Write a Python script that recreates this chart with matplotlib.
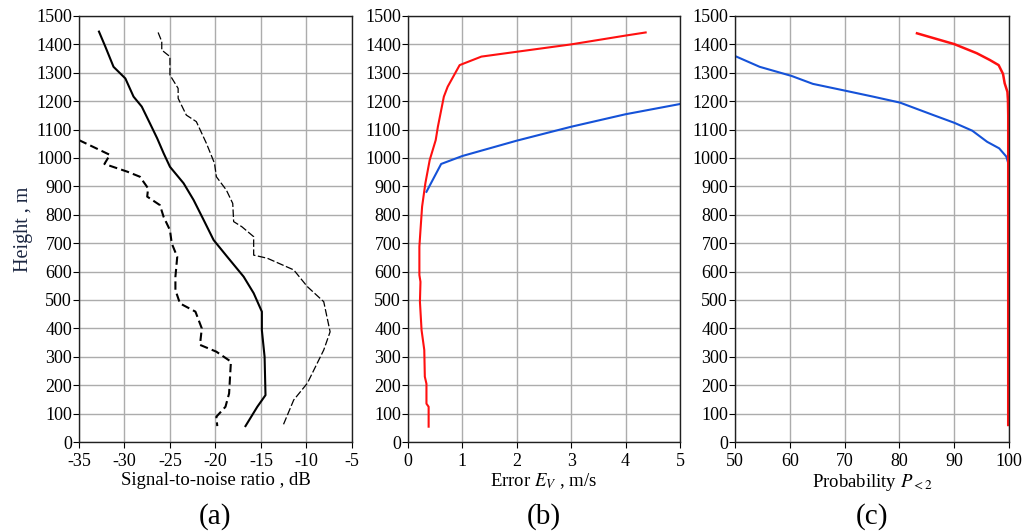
import matplotlib.pyplot as plt

plt.rcParams['font.family'] = ['Liberation Serif', 'DejaVu Serif']
plt.rcParams['mathtext.fontset'] = 'stix'
plt.rcParams['axes.unicode_minus'] = False

# (a) signal-to-noise ratio profiles, dB vs height, m
snr_mean_h = [1445, 1392, 1321, 1280, 1216, 1181, 1122, 1069, 1017, 969, 911, 852,
              782, 711, 652, 582, 524, 459, 394, 300, 165, 124, 56]
snr_mean = [-32.8, -32.1, -31.2, -29.9, -29.0, -28.1, -27.2, -26.4, -25.7, -25.0,
            -23.5, -22.4, -21.3, -20.2, -18.7, -16.9, -15.8, -14.9, -14.9, -14.6,
            -14.5, -15.4, -16.7]

snr_low_h = [1063, 1011, 979, 952, 934, 893, 864, 834, 793, 746, 699, 652, 582, 535,
             488, 459, 400, 342, 318, 283, 171, 124, 89, 56]
snr_low = [-35.0, -31.6, -32.2, -29.7, -28.3, -27.4, -27.5, -26.1, -25.7, -25.0,
           -24.8, -24.2, -24.4, -24.4, -23.9, -22.2, -21.5, -21.7, -19.9, -18.3,
           -18.5, -18.9, -19.9, -19.8]

snr_high_h = [1442, 1410, 1380, 1357, 1292, 1245, 1210, 1151, 1128, 1052, 981, 934,
              887, 840, 776, 758, 723, 658, 647, 606, 547, 494, 388, 324, 207, 148, 56]
snr_high = [-26.3, -25.9, -25.9, -25.0, -25.0, -24.1, -24.1, -23.2, -22.1, -21.0,
            -20.1, -19.9, -18.8, -18.1, -18.0, -17.1, -15.8, -15.8, -14.3, -11.4,
            -9.9, -8.1, -7.4, -8.1, -9.9, -11.4, -12.6]

# (b) error E_V, m/s
err_red_h = [54, 124, 135, 205, 230, 324, 394, 494, 564, 588, 688, 746, 829, 911,
             993, 1063, 1110, 1216, 1251, 1327, 1357, 1374, 1400, 1431, 1442]
err_red = [0.38, 0.38, 0.34, 0.34, 0.31, 0.30, 0.25, 0.22, 0.23, 0.21, 0.21, 0.23,
           0.26, 0.32, 0.40, 0.51, 0.55, 0.66, 0.73, 0.95, 1.35, 2.0, 3.0, 4.0, 4.37]
err_blue_h = [881, 979, 1007, 1061, 1110, 1154, 1190]
err_blue = [0.34, 0.61, 1.0, 2.0, 3.0, 4.0, 5.0]

# (c) probability P<2, %
prob_blue_h = [1359, 1321, 1289, 1261, 1237, 1216, 1195, 1151, 1124, 1096, 1057,
               1034, 1005, 979]
prob_blue = [50.0, 54.5, 60.3, 64.2, 70.1, 75.2, 80.1, 86.2, 90.0, 93.3, 96.0,
             98.2, 99.5, 99.9]
prob_red_h = [1439, 1401, 1369, 1345, 1327, 1296, 1263, 1233, 1204, 1150, 60]
prob_red = [83.2, 90.0, 94.1, 96.5, 98.1, 98.9, 99.2, 99.7, 99.8, 99.85, 99.85]

fig = plt.figure(figsize=(10.24, 5.31), dpi=100)
bottom, height = 0.1676, 0.8023
ax_a = fig.add_axes([0.0771, bottom, 0.2666, height])
ax_b = fig.add_axes([0.3984, bottom, 0.2656, height])
ax_c = fig.add_axes([0.7178, bottom, 0.2676, height])

ax_a.plot(snr_mean, snr_mean_h, color='black', lw=1.5)
ax_a.plot(snr_low, snr_low_h, color='black', lw=1.5, dashes=(4, 2))
ax_a.plot(snr_high, snr_high_h, color='black', lw=0.9, dashes=(6, 2))
ax_a.set_xlim(-35, -5)
ax_a.set_xticks(range(-35, -4, 5))
ax_a.set_xlabel('Signal-to-noise ratio , dB', fontsize=13.5, labelpad=1)
ax_a.set_ylabel('Height , m', fontsize=14.5, color='#1c2742', labelpad=2)

ax_b.plot(err_blue, err_blue_h, color='#1552d8', lw=1.5)
ax_b.plot(err_red, err_red_h, color='#ff1010', lw=1.5)
ax_b.set_xlim(0, 5)
ax_b.set_xticks(range(0, 6))
ax_b.set_xlabel('Error $E_V$ , m/s', fontsize=13.5, labelpad=1)

ax_c.plot(prob_blue, prob_blue_h, color='#1552d8', lw=1.5)
ax_c.plot(prob_red, prob_red_h, color='#ff1010', lw=1.8, clip_on=False)
ax_c.set_xlim(50, 100)
ax_c.set_xticks(range(50, 101, 10))
ax_c.set_xlabel('Probability $P_{<2}$', fontsize=13.5, labelpad=1)

for ax, lab in zip([ax_a, ax_b, ax_c], ['(a)', '(b)', '(c)']):
    ax.set_ylim(0, 1500)
    ax.set_yticks(range(0, 1501, 100))
    ax.grid(True, color='#acacac', lw=1)
    ax.set_axisbelow(True)
    ax.tick_params(labelsize=13, length=4, width=0.8, direction='out')
    ax.tick_params(axis='y', pad=1)
    ax.tick_params(axis='x', pad=4)
    for s in ax.spines.values():
        s.set_linewidth(1)
        s.set_color('#202020')
    ax.text(0.5, -0.175, lab, transform=ax.transAxes, ha='center', va='center',
            fontsize=21)

plt.savefig('out.png', dpi=100)
